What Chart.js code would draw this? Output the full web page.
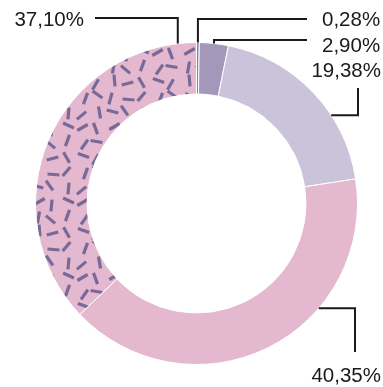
<!DOCTYPE html>
<html>
<head>
<meta charset="utf-8">
<script src="https://cdn.jsdelivr.net/npm/chart.js@4.4.1/dist/chart.umd.min.js"></script>
<style>
  html, body { margin: 0; padding: 0; background: #fff; }
  #wrap { position: relative; width: 383px; height: 387px; }
</style>
</head>
<body>
<div id="wrap"><canvas id="chart"></canvas></div>
<script>
// participación por segmento (%), en sentido horario desde arriba
const SEGMENTOS = ["A", "B", "C", "D", "E"];
const VALORES = [0.28, 2.90, 19.38, 40.35, 37.10];
const COLORES = ["#8c7fa6", "#a398b9", "#cbc3d9", "#e4b9cf", null];

const ROSA = "#e4b9cf";
const TRAZO = "#776a98";
const TINTA = "#1a1a1a";

const fmtPct = (v) => v.toFixed(2).replace(".", ",") + "%";

// textura de rayitas para el último segmento
function patronRayitas() {
  const paso = 15;
  const size = paso * 5;
  const c = document.createElement("canvas");
  c.width = size; c.height = size;
  const g = c.getContext("2d");
  g.fillStyle = ROSA;
  g.fillRect(0, 0, size, size);
  // [dx, dy, ángulo] sobre una grilla de 15px
  const rayas = [
    [1, -2, 20], [-2, 2, -60], [2, -2, 85], [0, 1, -15], [-1, 0, 60],
    [3, 1, 110], [0, -3, 35], [-2, 1, -75], [1, 2, 5], [-1, -1, 130],
    [-1, 3, -40], [2, 0, 80], [0, -1, 15], [-3, -2, 55], [1, 1, -85],
    [0, 0, 150], [-2, 1, 70], [2, -1, -30], [-1, 3, 95], [1, -2, 25],
    [2, 2, -55], [-1, -1, 10], [1, 0, 100], [-2, 2, 40], [0, -2, -70],
  ];
  g.strokeStyle = TRAZO;
  g.lineWidth = 3.2;
  g.lineCap = "butt";
  rayas.forEach(([dx, dy, ang], i) => {
    const cx = (i % 5) * paso + paso / 2 + dx;
    const cy = Math.floor(i / 5) * paso + paso / 2 + dy;
    const a = ang * Math.PI / 180;
    const hx = Math.cos(a) * 6, hy = Math.sin(a) * 6;
    for (const ox of [-size, 0, size]) {
      for (const oy of [-size, 0, size]) {
        g.beginPath();
        g.moveTo(cx + ox - hx, cy + oy - hy);
        g.lineTo(cx + ox + hx, cy + oy + hy);
        g.stroke();
      }
    }
  });
  return g.createPattern(c, "repeat");
}

// guías en codo: t = posición dentro del arco, primero vertical ("v") u horizontal ("h")
const GUIAS = [
  { t: 0.5,  first: "v", elbow: 19,  end: 307, tx: 322, ty: 20,  align: "left" },
  { t: 0.5,  first: "v", elbow: 40,  end: 307, tx: 322, ty: 46,  align: "left" },
  { t: 0.65, first: "h", elbow: 358, end: 88,  tx: 381, ty: 71,  align: "right" },
  { t: 0.34, first: "h", elbow: 355, end: 352, tx: 381, ty: 376, align: "right" },
  { t: 0.95, first: "v", elbow: 18,  end: 95,  tx: 84,  ty: 20,  align: "right" },
];

const guiasPlugin = {
  id: "guias",
  afterDraw(chart) {
    const { ctx } = chart;
    const arcs = chart.getDatasetMeta(0).data;
    ctx.save();
    ctx.strokeStyle = TINTA;
    ctx.lineWidth = 2;
    ctx.lineJoin = "miter";
    ctx.fillStyle = TINTA;
    ctx.font = "20.5px 'Liberation Sans', Arial, sans-serif";
    ctx.textBaseline = "middle";
    arcs.forEach((arc, i) => {
      const g = GUIAS[i];
      const { x, y, startAngle, endAngle, outerRadius } = arc.getProps(["x", "y", "startAngle", "endAngle", "outerRadius"], true);
      const a = startAngle + g.t * (endAngle - startAngle);
      const px = x + outerRadius * Math.cos(a);
      const py = y + outerRadius * Math.sin(a);
      ctx.beginPath();
      ctx.moveTo(px, py);
      if (g.first === "v") {
        ctx.lineTo(px, g.elbow);
        ctx.lineTo(g.end, g.elbow);
      } else {
        ctx.lineTo(g.elbow, py);
        ctx.lineTo(g.elbow, g.end);
      }
      ctx.stroke();
      ctx.textAlign = g.align;
      ctx.fillText(fmtPct(VALORES[i]), g.tx, g.ty);
    });
    ctx.restore();
  },
};

const rayitas = patronRayitas();

new Chart(document.getElementById("chart"), {
  type: "doughnut",
  data: {
    labels: SEGMENTOS,
    datasets: [{
      data: VALORES,
      backgroundColor: COLORES.map((c) => c || rayitas),
      borderColor: "#ffffff",
      borderWidth: 1,
    }],
  },
  options: {
    responsive: true,
    maintainAspectRatio: false,
    animation: false,
    cutout: "68%",
    layout: { padding: { left: 35, right: 25, top: 42, bottom: 22 } },
    plugins: { legend: { display: false }, tooltip: { enabled: false } },
  },
  plugins: [guiasPlugin],
});
</script>
</body>
</html>
